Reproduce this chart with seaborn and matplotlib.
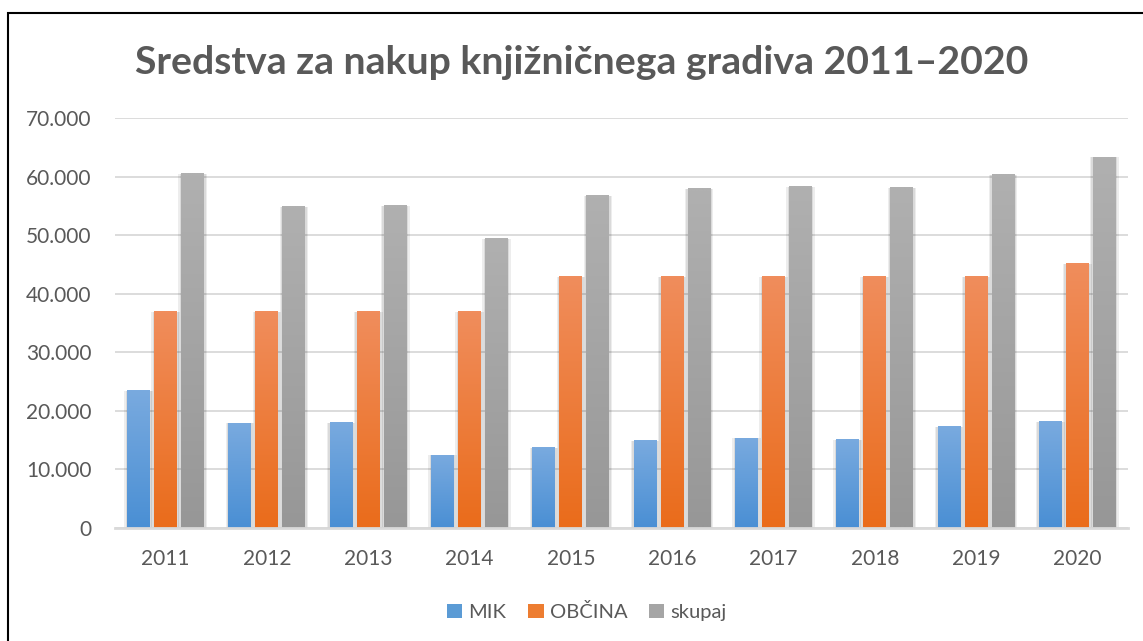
import numpy as np
import pandas as pd
import matplotlib
matplotlib.use("Agg")
import matplotlib.pyplot as plt
import matplotlib.patheffects as pe
from matplotlib.colors import to_rgb
from matplotlib.patches import Rectangle
from matplotlib.ticker import FuncFormatter
import seaborn as sns

# ---- data ----
years = ["2011", "2012", "2013", "2014", "2015", "2016", "2017", "2018", "2019", "2020"]
mik = [23500, 18000, 18100, 12500, 13800, 15000, 15400, 15200, 17400, 18200]
obcina = [37000, 37000, 37000, 37000, 43000, 43000, 43000, 43000, 43000, 45200]
skupaj = [60600, 55000, 55100, 49500, 56800, 58000, 58400, 58200, 60400, 63400]
series_names = ["MIK", "OBČINA", "skupaj"]
title = "Sredstva za nakup knjižničnega gradiva 2011–2020"

df = pd.DataFrame({
    "leto": years * 3,
    "serija": [series_names[0]] * 10 + [series_names[1]] * 10 + [series_names[2]] * 10,
    "vrednost": mik + obcina + skupaj,
})

base_cols = {"MIK": "#5b9bd5", "OBČINA": "#ed7d31", "skupaj": "#a5a5a5"}
grad = {
    "MIK": ("#4a8fd4", "#79aadf"),
    "OBČINA": ("#ea6c1b", "#f08d5c"),
    "skupaj": ("#979797", "#b0b0b0"),
}

sns.set_theme(style="white")
plt.rcParams["font.family"] = ["Lato", "DejaVu Sans"]

W, H = 1143, 641
fig = plt.figure(figsize=(W / 100, H / 100), dpi=100)
ax = fig.add_axes([115 / W, 1 - 528 / H, 1013 / W, 410 / H])

sns.barplot(data=df, x="leto", y="vrednost", hue="serija", hue_order=series_names,
            palette=base_cols, width=0.8, gap=0.15, ax=ax, saturation=1,
            linewidth=0, zorder=3)

# gradient fill and soft shadow on each bar
bars = [p for p in ax.patches if p.get_height() > 0]
n = len(years)
for i, p in enumerate(bars):
    s = series_names[i // n]
    c0, c1 = np.array(to_rgb(grad[s][0])), np.array(to_rgb(grad[s][1]))
    t = np.linspace(0, 1, 64)[:, None, None]
    img = c0 * (1 - t) + c1 * t
    x0, y0 = p.get_x(), p.get_y()
    w, h = p.get_width(), p.get_height()
    p.set_path_effects([
        pe.SimplePatchShadow(offset=(2.0, -0.5), shadow_rgbFace="#000000", alpha=0.07),
        pe.SimplePatchShadow(offset=(-2.0, -0.5), shadow_rgbFace="#000000", alpha=0.07),
        pe.SimplePatchShadow(offset=(1.0, -0.5), shadow_rgbFace="#000000", alpha=0.08),
        pe.SimplePatchShadow(offset=(-1.0, -0.5), shadow_rgbFace="#000000", alpha=0.08),
        pe.Normal()])
    im = ax.imshow(img, extent=(x0, x0 + w, y0, y0 + h), origin="lower",
                   aspect="auto", zorder=4, interpolation="bilinear")
    im.set_clip_path(p)

ax.set_ylim(0, 70000)
ax.set_xlim(-0.5, 9.5)

ax.set_axisbelow(True)
ax.yaxis.grid(True, color="#d9d9d9", linewidth=1.3)
ax.set_yticks(np.arange(0, 70001, 10000))
ax.yaxis.set_major_formatter(FuncFormatter(lambda v, _: f"{int(v):,}".replace(",", ".")))
for side in ["top", "right", "left"]:
    ax.spines[side].set_visible(False)
ax.spines["bottom"].set_color("#d9d9d9")
ax.spines["bottom"].set_linewidth(2)
ax.spines["bottom"].set_zorder(5)
ax.tick_params(axis="y", length=0, pad=17, labelsize=15, labelcolor="#595959")
ax.tick_params(axis="x", length=0, pad=15, labelsize=15, labelcolor="#595959")
ax.set_xlabel("")
ax.set_ylabel("")

sns.move_legend(ax, "center", bbox_to_anchor=(587 / W, 1 - 612 / H),
                bbox_transform=fig.transFigure, ncol=3, frameon=False,
                title=None, fontsize=14.5, handlelength=0.75, handleheight=0.75,
                handletextpad=0.3, columnspacing=1.1, labelcolor="#595959")

fig.text(582 / W, 1 - 62 / H, title, ha="center", va="center",
         fontsize=28.3, fontweight="bold", color="#595959")

fig.patches.append(Rectangle((8 / W, -0.1), 1.2, 1 - 13 / H + 0.1,
                             transform=fig.transFigure, fill=False,
                             edgecolor="black", linewidth=1.5, figure=fig))

fig.savefig("out.png", dpi=100, facecolor="white")
